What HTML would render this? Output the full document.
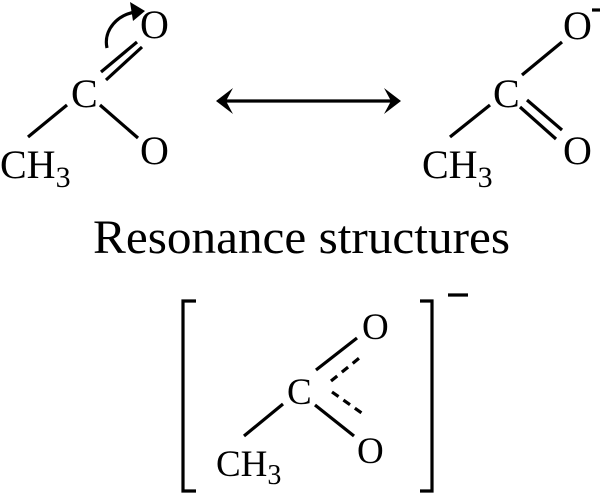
<!DOCTYPE html>
<html><head><style>
html,body{margin:0;padding:0;background:#fff;width:601px;height:494px;overflow:hidden}
svg text{font-family:"Liberation Serif",serif;fill:#000}
</style></head><body>
<svg width="601" height="494" viewBox="0 0 601 494" xmlns="http://www.w3.org/2000/svg">
<g stroke="#000" stroke-width="3.2" fill="none" stroke-linecap="butt">
<line x1="28" y1="137" x2="67" y2="105"/>
<line x1="101" y1="72" x2="137" y2="42"/>
<line x1="106" y1="80" x2="142" y2="47"/>
<line x1="100" y1="105" x2="138" y2="138"/>
<path d="M107,48 C103,30 118,14 136,12"/>
<line x1="222" y1="101" x2="395" y2="101"/>
<line x1="450" y1="137" x2="490" y2="105"/>
<line x1="522" y1="75" x2="562" y2="42"/>
<line x1="520" y1="107" x2="556" y2="139"/>
<line x1="527" y1="100" x2="562" y2="130"/>
<line x1="244" y1="436" x2="283" y2="404"/>
<line x1="316" y1="370" x2="357" y2="338"/>
<line x1="331" y1="381" x2="363" y2="355" stroke-dasharray="8,6"/>
<line x1="315" y1="405" x2="354" y2="436"/>
<line x1="332" y1="392" x2="366" y2="416" stroke-dasharray="8,6"/>
<path d="M196,301 H183 V491 H196"/>
<path d="M420,301 H432 V491 H420"/>
<line x1="448" y1="295" x2="468" y2="295"/>
<line x1="592" y1="10" x2="600" y2="10"/>
</g>
<polygon points="145,11 130,2 133,21" fill="#000"/>
<polygon points="216,101 233,88 226,101 233,114" fill="#000"/>
<polygon points="401,101 384,88 391,101 384,114" fill="#000"/>
<g font-size="40">
<text x="71" y="107">C</text>
<text x="140" y="38">O</text>
<text x="140" y="164">O</text>
<text x="0" y="178">CH<tspan font-size="30" dy="9">3</tspan></text>
<text x="493" y="107">C</text>
<text x="563" y="39">O</text>
<text x="563" y="164">O</text>
<text x="422" y="178">CH<tspan font-size="30" dy="9">3</tspan></text>
</g>
<text x="93" y="253" font-size="48" textLength="417" lengthAdjust="spacingAndGlyphs">Resonance structures</text>
<g font-size="37">
<text x="287" y="404">C</text>
<text x="362" y="339">O</text>
<text x="357" y="463">O</text>
<text x="216" y="476">CH<tspan font-size="28" dy="8">3</tspan></text>
</g>
</svg>
</body></html>
